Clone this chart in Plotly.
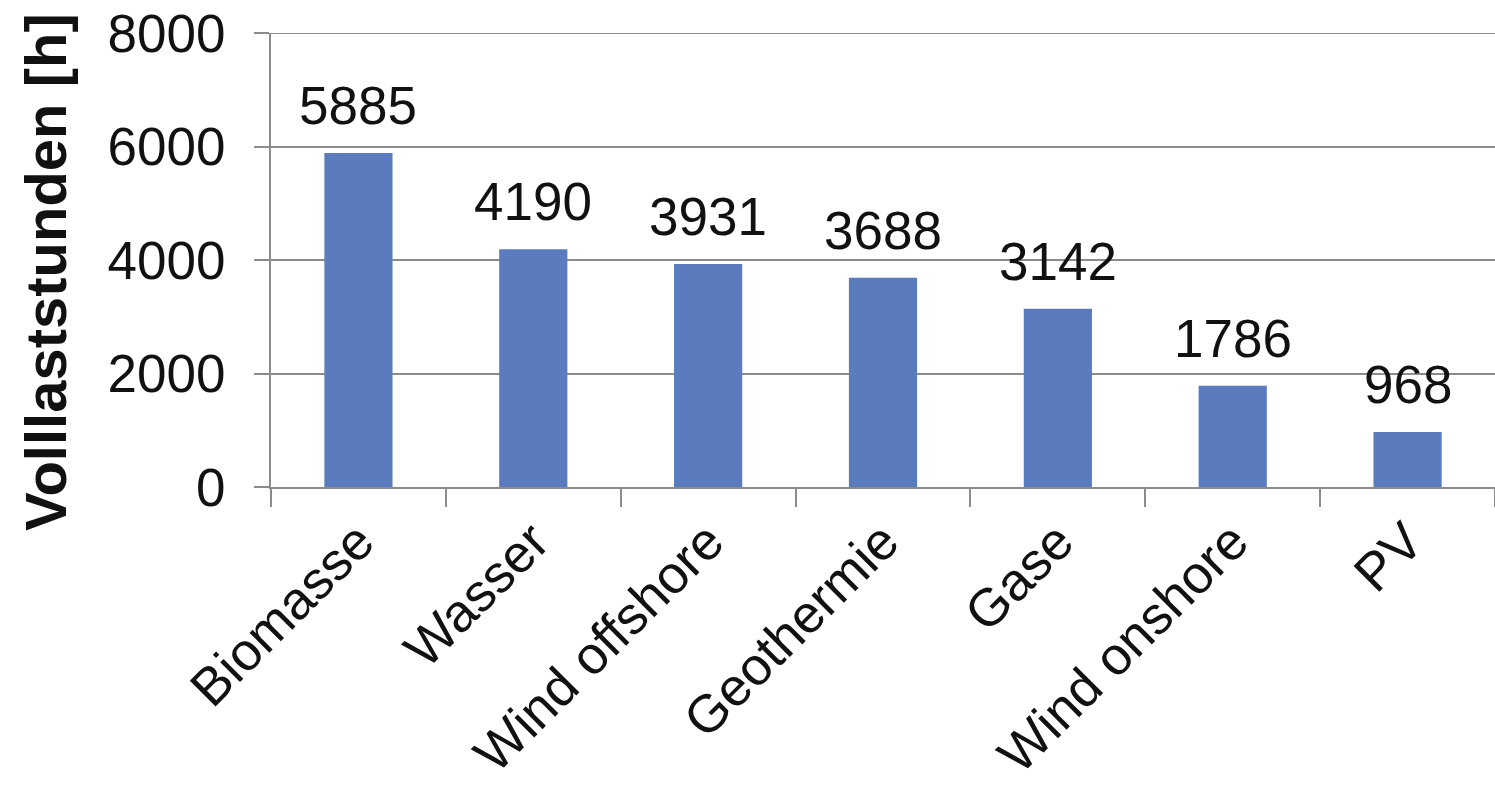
import plotly.graph_objects as go

categories = ["Biomasse", "Wasser", "Wind offshore", "Geothermie", "Gase", "Wind onshore", "PV"]
values = [5885, 4190, 3931, 3688, 3142, 1786, 968]
y_ticks = [0, 2000, 4000, 6000, 8000]
y_title = "Volllaststunden [h]"

FONT = "Liberation Sans, Arial, sans-serif"
BAR = "#5A7CBF"
GRID = "#8c8c8c"
TXT = "#111111"

W, H = 1495, 792
L, R, T = 271, 0, 33
PH = 454
B = H - T - PH
PW = W - L - R

fig = go.Figure()
fig.add_trace(go.Bar(
    x=categories, y=values,
    marker=dict(color=BAR, line=dict(width=0)),
    width=0.39,
    hoverinfo="skip",
))

for c, v in zip(categories, values):
    fig.add_annotation(x=c, y=v, text=str(v), showarrow=False,
                       yanchor="bottom", yshift=16,
                       font=dict(family=FONT, size=53, color=TXT))

fig.add_annotation(xref="paper", yref="paper",
                   x=(45 - L) / PW, y=1 - (272 - T) / PH,
                   text="<b>" + y_title + "</b>", textangle=-90, showarrow=False,
                   xanchor="center", yanchor="middle",
                   font=dict(family=FONT, size=58, color=TXT))

# top gridline at the last tick value (plotly drops grid lines on the plot edge)
fig.add_shape(type="line", xref="paper", yref="y",
              x0=-15 / PW, x1=1, y0=y_ticks[-1], y1=y_ticks[-1],
              line=dict(color=GRID, width=2), layer="below")

fig.update_layout(
    width=W, height=H,
    margin=dict(l=L, r=R, t=T, b=B),
    paper_bgcolor="white", plot_bgcolor="white",
    showlegend=False,
    font=dict(family=FONT, color=TXT),
)
fig.update_xaxes(
    type="category", range=[-0.5, 6.5],
    tickangle=-45, tickfont=dict(family=FONT, size=53, color=TXT),
    showline=True, linecolor=GRID, linewidth=2,
    ticks="outside", ticklen=18, tickcolor=GRID, tickwidth=2,
    tickson="boundaries", showgrid=False, automargin=False,
    ticklabeloverflow="allow",
)
fig.update_yaxes(
    range=[0, 8000], tickvals=y_ticks, ticktext=[str(t) for t in y_ticks],
    tickfont=dict(family=FONT, size=53, color=TXT),
    showline=True, linecolor=GRID, linewidth=2,
    ticks="outside", ticklen=15, tickcolor=GRID, tickwidth=2,
    ticklabelstandoff=18, ticklabeloverflow="allow",
    showgrid=True, gridcolor=GRID, gridwidth=2, zeroline=False,
    automargin=False,
)

fig.write_html("out.html",
               config={"displayModeBar": False},
               post_script="document.body.style.margin='0';document.body.style.overflow='hidden';")
